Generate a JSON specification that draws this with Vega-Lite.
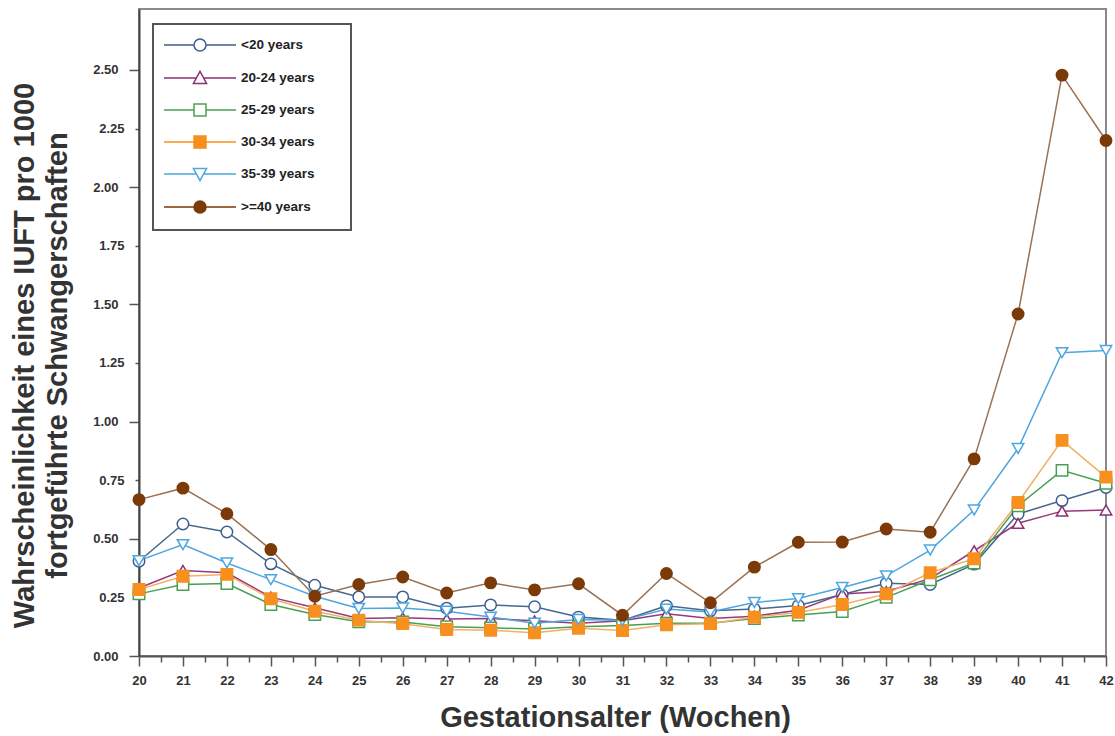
{
  "$schema": "https://vega.github.io/schema/vega-lite/v6.json",
  "width": 967,
  "height": 647,
  "autosize": {"type": "none"},
  "padding": {"left": 139, "top": 9, "right": 9, "bottom": 80},
  "background": "white",
  "config": {
    "font": "Liberation Sans",
    "view": {"stroke": "#8a8a8a", "strokeWidth": 2},
    "legend": {"strokeWidth": 2}
  },
  "data": {
    "values": [
      {"w":20,"g":"<20 years","v":0.404},{"w":21,"g":"<20 years","v":0.563},{"w":22,"g":"<20 years","v":0.529},{"w":23,"g":"<20 years","v":0.393},{"w":24,"g":"<20 years","v":0.302},{"w":25,"g":"<20 years","v":0.252},{"w":26,"g":"<20 years","v":0.252},{"w":27,"g":"<20 years","v":0.204},{"w":28,"g":"<20 years","v":0.218},{"w":29,"g":"<20 years","v":0.21},{"w":30,"g":"<20 years","v":0.166},{"w":31,"g":"<20 years","v":0.152},{"w":32,"g":"<20 years","v":0.214},{"w":33,"g":"<20 years","v":0.193},{"w":34,"g":"<20 years","v":0.2},{"w":35,"g":"<20 years","v":0.215},{"w":36,"g":"<20 years","v":0.262},{"w":37,"g":"<20 years","v":0.31},{"w":38,"g":"<20 years","v":0.305},{"w":39,"g":"<20 years","v":0.392},{"w":40,"g":"<20 years","v":0.606},{"w":41,"g":"<20 years","v":0.663},{"w":42,"g":"<20 years","v":0.719},
      {"w":20,"g":"20-24 years","v":0.29},{"w":21,"g":"20-24 years","v":0.365},{"w":22,"g":"20-24 years","v":0.355},{"w":23,"g":"20-24 years","v":0.251},{"w":24,"g":"20-24 years","v":0.206},{"w":25,"g":"20-24 years","v":0.16},{"w":26,"g":"20-24 years","v":0.163},{"w":27,"g":"20-24 years","v":0.158},{"w":28,"g":"20-24 years","v":0.16},{"w":29,"g":"20-24 years","v":0.15},{"w":30,"g":"20-24 years","v":0.14},{"w":31,"g":"20-24 years","v":0.15},{"w":32,"g":"20-24 years","v":0.18},{"w":33,"g":"20-24 years","v":0.16},{"w":34,"g":"20-24 years","v":0.17},{"w":35,"g":"20-24 years","v":0.195},{"w":36,"g":"20-24 years","v":0.265},{"w":37,"g":"20-24 years","v":0.275},{"w":38,"g":"20-24 years","v":0.33},{"w":39,"g":"20-24 years","v":0.449},{"w":40,"g":"20-24 years","v":0.566},{"w":41,"g":"20-24 years","v":0.618},{"w":42,"g":"20-24 years","v":0.623},
      {"w":20,"g":"25-29 years","v":0.265},{"w":21,"g":"25-29 years","v":0.305},{"w":22,"g":"25-29 years","v":0.309},{"w":23,"g":"25-29 years","v":0.22},{"w":24,"g":"25-29 years","v":0.177},{"w":25,"g":"25-29 years","v":0.146},{"w":26,"g":"25-29 years","v":0.145},{"w":27,"g":"25-29 years","v":0.125},{"w":28,"g":"25-29 years","v":0.12},{"w":29,"g":"25-29 years","v":0.115},{"w":30,"g":"25-29 years","v":0.125},{"w":31,"g":"25-29 years","v":0.13},{"w":32,"g":"25-29 years","v":0.14},{"w":33,"g":"25-29 years","v":0.14},{"w":34,"g":"25-29 years","v":0.16},{"w":35,"g":"25-29 years","v":0.175},{"w":36,"g":"25-29 years","v":0.19},{"w":37,"g":"25-29 years","v":0.25},{"w":38,"g":"25-29 years","v":0.325},{"w":39,"g":"25-29 years","v":0.397},{"w":40,"g":"25-29 years","v":0.641},{"w":41,"g":"25-29 years","v":0.792},{"w":42,"g":"25-29 years","v":0.737},
      {"w":20,"g":"30-34 years","v":0.284},{"w":21,"g":"30-34 years","v":0.34},{"w":22,"g":"30-34 years","v":0.348},{"w":23,"g":"30-34 years","v":0.244},{"w":24,"g":"30-34 years","v":0.191},{"w":25,"g":"30-34 years","v":0.153},{"w":26,"g":"30-34 years","v":0.138},{"w":27,"g":"30-34 years","v":0.113},{"w":28,"g":"30-34 years","v":0.11},{"w":29,"g":"30-34 years","v":0.099},{"w":30,"g":"30-34 years","v":0.118},{"w":31,"g":"30-34 years","v":0.109},{"w":32,"g":"30-34 years","v":0.133},{"w":33,"g":"30-34 years","v":0.138},{"w":34,"g":"30-34 years","v":0.166},{"w":35,"g":"30-34 years","v":0.186},{"w":36,"g":"30-34 years","v":0.22},{"w":37,"g":"30-34 years","v":0.265},{"w":38,"g":"30-34 years","v":0.355},{"w":39,"g":"30-34 years","v":0.415},{"w":40,"g":"30-34 years","v":0.655},{"w":41,"g":"30-34 years","v":0.92},{"w":42,"g":"30-34 years","v":0.763},
      {"w":20,"g":"35-39 years","v":0.407},{"w":21,"g":"35-39 years","v":0.475},{"w":22,"g":"35-39 years","v":0.397},{"w":23,"g":"35-39 years","v":0.326},{"w":24,"g":"35-39 years","v":0.255},{"w":25,"g":"35-39 years","v":0.203},{"w":26,"g":"35-39 years","v":0.205},{"w":27,"g":"35-39 years","v":0.191},{"w":28,"g":"35-39 years","v":0.166},{"w":29,"g":"35-39 years","v":0.14},{"w":30,"g":"35-39 years","v":0.156},{"w":31,"g":"35-39 years","v":0.152},{"w":32,"g":"35-39 years","v":0.2},{"w":33,"g":"35-39 years","v":0.188},{"w":34,"g":"35-39 years","v":0.228},{"w":35,"g":"35-39 years","v":0.245},{"w":36,"g":"35-39 years","v":0.292},{"w":37,"g":"35-39 years","v":0.342},{"w":38,"g":"35-39 years","v":0.452},{"w":39,"g":"35-39 years","v":0.623},{"w":40,"g":"35-39 years","v":0.885},{"w":41,"g":"35-39 years","v":1.294},{"w":42,"g":"35-39 years","v":1.303},
      {"w":20,"g":">=40 years","v":0.667},{"w":21,"g":">=40 years","v":0.716},{"w":22,"g":">=40 years","v":0.607},{"w":23,"g":">=40 years","v":0.454},{"w":24,"g":">=40 years","v":0.255},{"w":25,"g":">=40 years","v":0.305},{"w":26,"g":">=40 years","v":0.337},{"w":27,"g":">=40 years","v":0.269},{"w":28,"g":">=40 years","v":0.312},{"w":29,"g":">=40 years","v":0.282},{"w":30,"g":">=40 years","v":0.308},{"w":31,"g":">=40 years","v":0.174},{"w":32,"g":">=40 years","v":0.352},{"w":33,"g":">=40 years","v":0.227},{"w":34,"g":">=40 years","v":0.379},{"w":35,"g":">=40 years","v":0.485},{"w":36,"g":">=40 years","v":0.486},{"w":37,"g":">=40 years","v":0.542},{"w":38,"g":">=40 years","v":0.528},{"w":39,"g":">=40 years","v":0.841},{"w":40,"g":">=40 years","v":1.459},{"w":41,"g":">=40 years","v":2.478},{"w":42,"g":">=40 years","v":2.199}
    ]
  },
  "encoding": {
    "x": {
      "field": "w", "type": "quantitative",
      "scale": {"domain": [20, 42], "nice": false, "zero": false},
      "axis": {
        "values": [20,20.5,21,21.5,22,22.5,23,23.5,24,24.5,25,25.5,26,26.5,27,27.5,28,28.5,29,29.5,30,30.5,31,31.5,32,32.5,33,33.5,34,34.5,35,35.5,36,36.5,37,37.5,38,38.5,39,39.5,40,40.5,41,41.5,42],
        "labelExpr": "datum.value % 1 === 0 ? format(datum.value, 'd') : ''",
        "labelOverlap": false, "labelFlush": false,
        "tickSize": {"condition": {"test": "datum.value % 1 === 0", "value": 10}, "value": 6},
        "tickColor": "#555", "tickWidth": 1.5,
        "domainColor": "#555", "domainWidth": 2,
        "labelFontSize": 13, "labelFontWeight": "bold", "labelColor": "#333", "labelPadding": 8,
        "grid": false,
        "title": "Gestationsalter (Wochen)",
        "titleFontSize": 29, "titleFontWeight": "bold", "titleColor": "#333",
        "titleX": 476, "titleY": 70, "titleAlign": "center", "titleBaseline": "alphabetic", "titleAnchor": "start"
      }
    },
    "y": {
      "field": "v", "type": "quantitative",
      "scale": {"domain": [0, 2.76], "nice": false, "zero": true},
      "axis": {
        "values": [0,0.25,0.5,0.75,1,1.25,1.5,1.75,2,2.25,2.5],
        "format": ".2f",
        "tickSize": {"condition": {"test": "datum.value % 0.5 === 0", "value": 10}, "value": 4},
        "tickColor": "#555", "tickWidth": 1.5,
        "domainColor": "#444", "domainWidth": 2,
        "labelFontSize": 13, "labelFontWeight": "bold", "labelColor": "#333", "labelPadding": 11,
        "grid": false,
        "title": ["Wahrscheinlichkeit eines IUFT pro 1000", "fortgeführte Schwangerschaften"],
        "titleFontSize": 29, "titleFontWeight": "bold", "titleColor": "#333",
        "titleAngle": -90, "titleX": -115, "titleY": 346, "titleAlign": "center", "titleBaseline": "middle", "titleLineHeight": 33, "titleAnchor": "start"
      }
    }
  },
  "resolve": {"scale": {"shape": "independent", "color": "independent"}},
  "layer": [
    {
      "mark": {"type": "line", "strokeWidth": 1.5},
      "encoding": {
        "color": {
          "field": "g", "type": "nominal",
          "scale": {
            "domain": ["<20 years", "20-24 years", "25-29 years", "30-34 years", "35-39 years", ">=40 years"],
            "range": ["#46678f", "#963a7c", "#4aa052", "#f2b066", "#4ea6df", "#9a7152"]
          },
          "legend": null
        }
      }
    },
    {
      "mark": {"type": "point", "filled": false, "size": 130, "strokeWidth": 1.5, "opacity": 0},
      "encoding": {
        "shape": {
          "field": "g", "type": "nominal",
          "scale": {
            "domain": ["<20 years", "20-24 years", "25-29 years", "30-34 years", "35-39 years", ">=40 years"],
            "range": [
              "M-6,0L-1,0M1,0L6,0M1,0A1,1,0,1,1,-1,0A1,1,0,1,1,1,0Z",
              "M-6,0L-0.6,0M0.6,0L6,0M0,-1.1L1.1,0.9L-1.1,0.9Z",
              "M-6,0L-1,0M1,0L6,0M-1,-1L1,-1L1,1L-1,1Z",
              "M-6,0L-1,0M1,0L6,0M-1,-1L1,-1L1,1L-1,1ZM-0.8,-0.8L0.8,-0.8L0.8,0.8L-0.8,0.8ZM-0.6,-0.6L0.6,-0.6L0.6,0.6L-0.6,0.6ZM-0.4,-0.4L0.4,-0.4L0.4,0.4L-0.4,0.4ZM-0.2,-0.2L0.2,-0.2L0.2,0.2L-0.2,0.2ZM-0.1,0L0.1,0",
              "M-6,0L-0.6,0M0.6,0L6,0M0,1.1L1.1,-0.9L-1.1,-0.9Z",
              "M-6,0L-1,0M1,0L6,0M1,0A1,1,0,1,1,-1,0A1,1,0,1,1,1,0ZM0.8,0A0.8,0.8,0,1,1,-0.8,0A0.8,0.8,0,1,1,0.8,0ZM0.6,0A0.6,0.6,0,1,1,-0.6,0A0.6,0.6,0,1,1,0.6,0ZM0.4,0A0.4,0.4,0,1,1,-0.4,0A0.4,0.4,0,1,1,0.4,0ZM0.2,0A0.2,0.2,0,1,1,-0.2,0A0.2,0.2,0,1,1,0.2,0ZM-0.1,0L0.1,0"
            ]
          }
        },
        "color": {
          "field": "g", "type": "nominal",
          "scale": {
            "domain": ["<20 years", "20-24 years", "25-29 years", "30-34 years", "35-39 years", ">=40 years"],
            "range": ["#3d5f8f", "#8d2f72", "#4aa052", "#f7901e", "#4ea6df", "#7b3a08"]
          },
          "legend": {
            "orient": "none", "legendX": 14, "legendY": 15,
            "title": "\u00a0", "titleOrient": "right", "titlePadding": 22,
            "padding": 14,
            "strokeColor": "#555",
            "fillColor": "white",
            "symbolSize": 144,
            "symbolStrokeWidth": 1.5,
            "symbolOpacity": 1,
            "symbolOffset": 26,
            "labelOffset": 34,
            "rowPadding": 14,
            "labelFontSize": 13.5, "labelFontWeight": "bold", "labelColor": "#222"
          }
        }
      }
    },
    {
      "mark": {"type": "point", "filled": true, "size": 130, "strokeWidth": 1.5, "opacity": 1},
      "encoding": {
        "shape": {
          "field": "g", "type": "nominal",
          "scale": {
            "domain": ["<20 years", "20-24 years", "25-29 years", "30-34 years", "35-39 years", ">=40 years"],
            "range": ["circle", "triangle-up", "square", "square", "triangle-down", "circle"]
          },
          "legend": null
        },
        "stroke": {
          "field": "g", "type": "nominal",
          "scale": {
            "domain": ["<20 years", "20-24 years", "25-29 years", "30-34 years", "35-39 years", ">=40 years"],
            "range": ["#3d5f8f", "#8d2f72", "#4aa052", "#f7901e", "#4ea6df", "#7b3a08"]
          },
          "legend": null
        },
        "fill": {
          "field": "g", "type": "nominal",
          "scale": {
            "domain": ["<20 years", "20-24 years", "25-29 years", "30-34 years", "35-39 years", ">=40 years"],
            "range": ["white", "white", "white", "#f7901e", "white", "#7b3a08"]
          },
          "legend": null
        }
      }
    }
  ]
}
